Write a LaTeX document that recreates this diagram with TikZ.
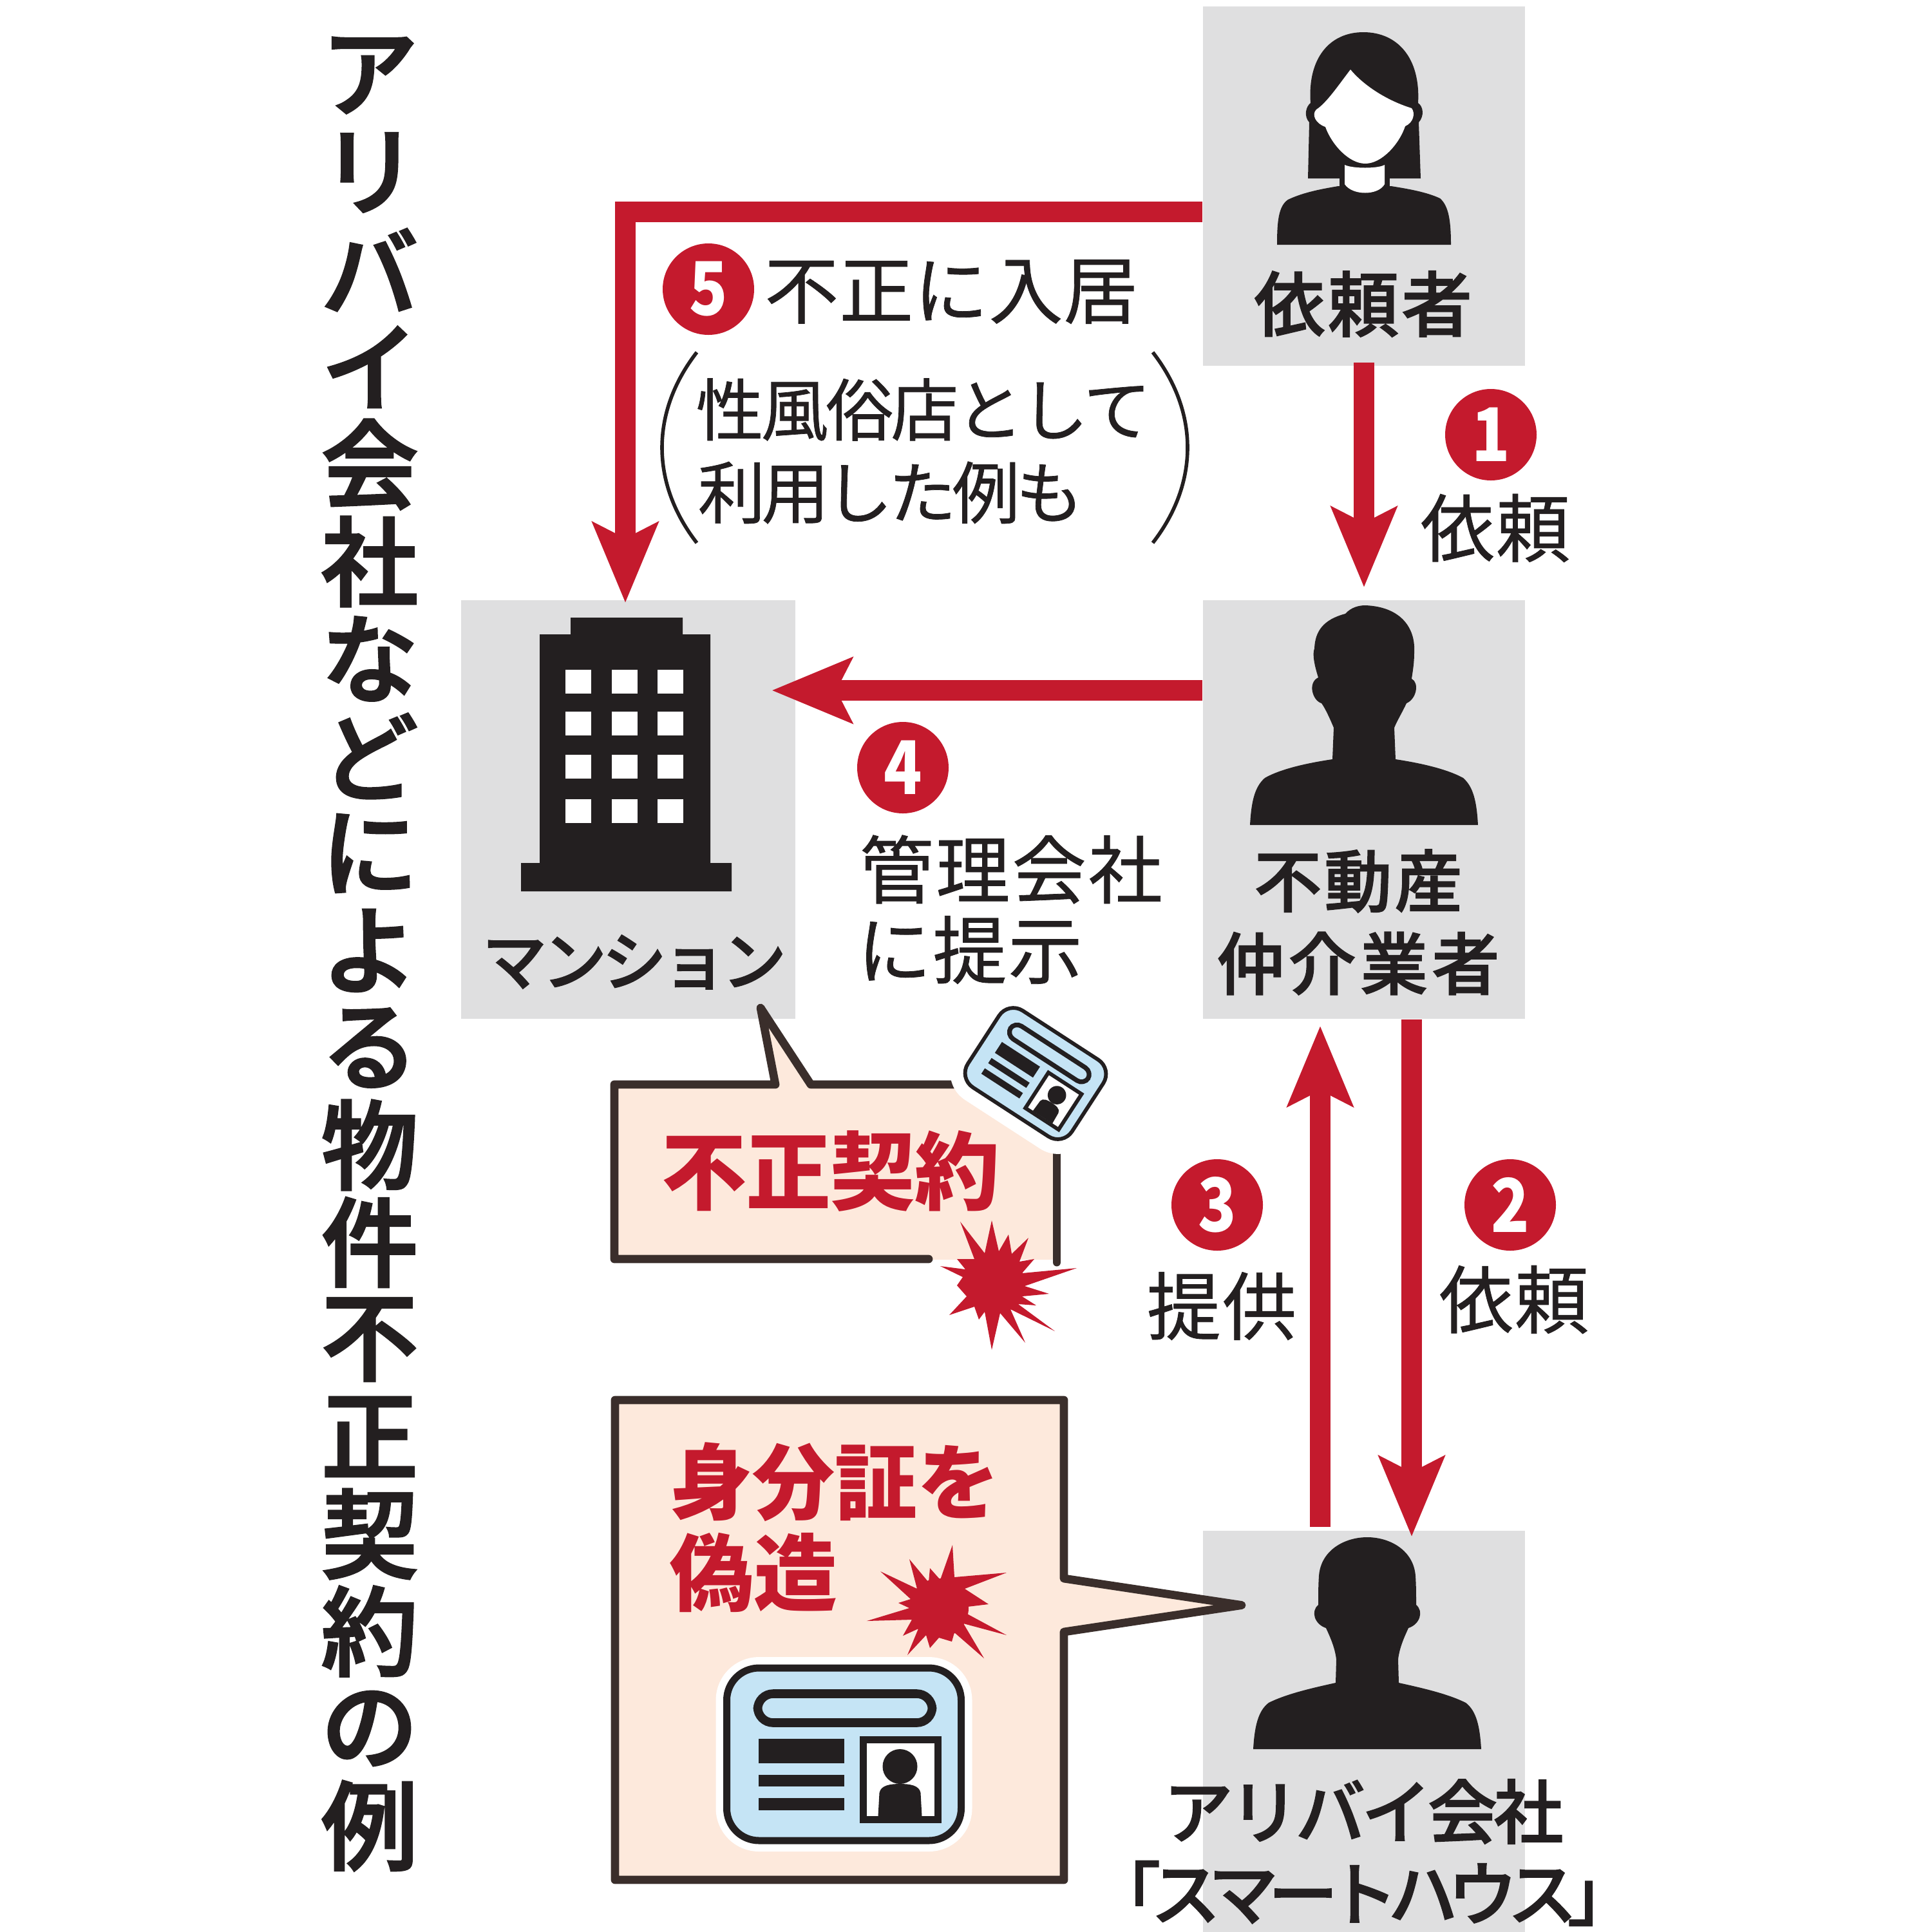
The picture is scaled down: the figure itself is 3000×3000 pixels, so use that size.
\documentclass[tikz,border=0pt]{standalone}
\usepackage{fontspec}
\usetikzlibrary{calc,arrows.meta}
\setmainfont{Noto Sans CJK JP}
\newfontfamily\medfont{Noto Sans CJK JP Medium}
\definecolor{boxgray}{HTML}{DFDFE0}
\definecolor{ink}{HTML}{231F20}
\definecolor{redc}{HTML}{C41A2D}
\definecolor{peach}{HTML}{FDE9DC}
\definecolor{cardblue}{HTML}{C5E4F5}
\definecolor{brownline}{HTML}{3A2E2B}
\newcommand\fpx[1]{\pgfmathsetlengthmacro\tmpfs{#1*0.25}\fontsize{\tmpfs}{\tmpfs}\selectfont}
\newcommand\numt[1]{\scalebox{0.85}[1]{#1}}
\tikzset{
  graybox/.style n args={2}{fill=boxgray,draw=none,inner sep=0pt,minimum width=#1*0.25pt,minimum height=#2*0.25pt},
  reg/.style n args={2}{inner sep=0pt,text=ink,font=\fpx{#1}\addfontfeature{LetterSpace=#2,FakeBold=0.7}},
  mid/.style n args={2}{inner sep=0pt,text=ink,font=\medfont\fpx{#1}\addfontfeature{LetterSpace=#2,FakeBold=1.6}},
  ttl/.style n args={2}{inner sep=0pt,text=ink,font=\medfont\fpx{#1}\addfontfeature{LetterSpace=#2,FakeBold=2.6}},
  redt/.style n args={2}{inner sep=0pt,text=redc,font=\bfseries\fpx{#1}\addfontfeature{LetterSpace=#2}},
  numc/.style={circle,fill=redc,text=white,inner sep=0pt,minimum size=35.5pt,font=\bfseries\fpx{115}},
  conn/.style={draw=redc,line width=7.8pt,-{Stealth[length=31pt,width=25pt,inset=6pt]}},
  bubble/.style={draw=brownline,line width=3.2pt,line join=round,line cap=round},
  paren/.style={draw=ink,line width=1.4pt},
  sil/.style={fill=ink,draw=none}
}
% cx, cy, rotation, scale, halo line width (px)
\newcommand\idcard[5]{%
  \begin{scope}[shift={(#1,#2)},rotate=#3,scale=#4]
    \draw[white,line width=#5*0.25pt,line join=round,rounded corners=50*#4*0.25pt] (-182,-134) rectangle (182,134);
    \draw[draw=ink,fill=cardblue,line width=#4*2.75pt,rounded corners=50*#4*0.25pt] (-182,-134) rectangle (182,134);
    \draw[draw=ink,line width=#4*3.4pt,rounded corners=24*#4*0.25pt] (-134,-94) rectangle (137,-49);
    \fill[ink] (-133,-24) rectangle (0,14);
    \fill[ink] (-133,32) rectangle (0,50);
    \fill[ink] (-133,68) rectangle (0,87);
    \draw[draw=ink,fill=white,line width=#4*2.75pt] (30,-23) rectangle (146,101);
    \fill[ink] (87,19) ellipse [x radius=27,y radius=27];
    \fill[ink] (53,96) -- (55,60) .. controls (57,48) and (72,46) .. (87,46) .. controls (102,46) and (117,48) .. (119,60) -- (121,96) -- cycle;
  \end{scope}}
\begin{document}
\begin{tikzpicture}[x=0.25pt,y=-0.25pt]
\useasboundingbox (0,0) rectangle (3000,3000);
% gray panels
\node[graybox={500}{558}] (requester) at (2118,289) {};
\node[graybox={500}{650}] (agent) at (2118,1257) {};
\node[graybox={519}{650}] (mansion) at (975.5,1257) {};
\node[graybox={500}{623}] (alibi) at (2118,2688.5) {};
% title
\foreach \c [count=\i from 0] in {ア,リ,バ,イ,会,社,な,ど,に,よ,る,物,件,不,正,契,約,の,例}{
  \pgfmathsetmacro\yy{117+151*\i}
  \node[ttl={150}{0}] (title\i) at (574,\yy) {\c};
}
% woman
\fill[sil] (2031,277) -- (2033,190) .. controls (2024,180) and (2028,165) .. (2035,160) .. controls (2030,90) and (2065,50) .. (2117,50) .. controls (2170,50) and (2206,90) .. (2202,160) .. controls (2210,165) and (2212,180) .. (2203,190) -- (2206,277) -- (2160,277) -- (2075,277) -- cycle;
\fill[white] (2097,108) .. controls (2115,130) and (2150,155) .. (2192,168) .. controls (2198,176) and (2195,190) .. (2182,196) .. controls (2172,225) and (2145,254) .. (2120,254) .. controls (2095,254) and (2068,225) .. (2058,197) .. controls (2043,192) and (2036,178) .. (2044,170) .. controls (2060,160) and (2080,130) .. (2097,108) -- cycle;
\fill[sil] (1983,380) .. controls (1983,345) and (1985,320) .. (2000,310) .. controls (2025,298) and (2055,293) .. (2078,289) -- (2160,289) .. controls (2185,293) and (2215,298) .. (2236,308) .. controls (2250,320) and (2253,345) .. (2253,380) -- cycle;
\fill[ink] (2080,260) rectangle (2158,292);
\fill[white] (2088,256) -- (2088,286) .. controls (2100,304) and (2140,304) .. (2150,286) -- (2150,256) .. controls (2140,262) and (2100,262) .. (2088,256) -- cycle;
% broker silhouette
\fill[sil] (1941,1281) .. controls (1943,1245) and (1948,1222) .. (1964,1208) .. controls (1990,1193) and (2035,1184) .. (2069,1179) -- (2071,1130) .. controls (2066,1118) and (2058,1100) .. (2052,1092) .. controls (2038,1088) and (2030,1060) .. (2047,1052) .. controls (2040,1030) and (2038,1015) .. (2041,1007) .. controls (2042,980) and (2055,962) .. (2089,953) .. controls (2098,943) and (2110,940) .. (2120,940) .. controls (2175,942) and (2198,975) .. (2196,1012) .. controls (2196,1030) and (2194,1040) .. (2192,1054) .. controls (2204,1060) and (2200,1085) .. (2184,1092) .. controls (2178,1105) and (2170,1118) .. (2165,1130) -- (2167,1179) .. controls (2200,1184) and (2245,1193) .. (2272,1208) .. controls (2288,1222) and (2293,1245) .. (2295,1281) -- cycle;
% alibi-company silhouette
\begin{scope}[shift={(2123,2387)}]
\fill[sil] (-177,329) .. controls (-175,295) and (-170,270) .. (-153,257) .. controls (-125,243) and (-85,234) .. (-49,226) -- (-48,190) .. controls (-50,170) and (-60,150) .. (-64,141) .. controls (-82,135) and (-88,115) .. (-76,105) .. controls (-76,90) and (-76,75) .. (-75,60) .. controls (-72,20) and (-35,0) .. (0,0) .. controls (35,0) and (72,20) .. (75,60) .. controls (76,75) and (76,90) .. (76,105) .. controls (88,115) and (82,135) .. (64,141) .. controls (60,150) and (50,170) .. (48,190) -- (49,226) .. controls (85,234) and (125,243) .. (153,257) .. controls (170,270) and (175,295) .. (177,329) -- cycle;
\end{scope}
% building
\fill[sil] (886,959) -- (1060,959) -- (1060,985) -- (1103,985) -- (1103,1340) -- (1136,1340) -- (1136,1384) -- (809,1384) -- (809,1340) -- (838,1340) -- (838,985) -- (886,985) -- cycle;
\foreach \yy in {1040,1105,1172,1241}{
  \foreach \xx in {878,950,1021}{
    \fill[white] (\xx,\yy) rectangle ++(40,37);
  }
}
% connectors
\draw[conn] ($(requester.west)+(0,40)$) -| ($(mansion.north)+(-4.5,5)$);
\draw[conn] ($(requester.south)+(0,-6)$) -- ($(agent.north)+(0,-19)$);
\draw[conn] ($(agent.west)+(0,-185)$) -- ($(mansion.east)+(-37.5,-185)$);
\draw[conn] ($(agent.south)+(74,0)$) -- ($(alibi.north)+(74,10)$);
\draw[conn] ($(alibi.north)+(-68,-5)$) -- ($(agent.south)+(-68,10)$);
% number badges
\node[numc] (n1) at (2315,675) {\numt{1}};
\node[numc] (n2) at (2345,1871) {\numt{2}};
\node[numc] (n3) at (1890,1871) {\numt{3}};
\node[numc] (n4) at (1402,1192) {\numt{4}};
\node[numc] (n5) at (1100,449) {\numt{5}};
% labels
\node[mid={110}{4}] (lreq) at (2117,472) {依頼者};
\node[mid={105}{4}] (lag1) at (2109,1368) {不動産};
\node[mid={105}{6}] (lag2) at (2109,1496) {仲介業者};
\node[mid={100}{-7}] (lman) at (985,1494) {マンション};
\node[mid={108}{-5}] (lal1) at (2117,2813) {アリバイ会社};
\node[mid={108}{-14}] (lal2) at (2118,2940) {「スマートハウス」};
\node[reg={115}{2}] (t1) at (2322,820) {依頼};
\node[reg={115}{2}] (t2) at (2351,2018) {依頼};
\node[reg={115}{2}] (t3) at (1897,2028) {提供};
\node[reg={115}{3}] (t4a) at (1570,1350) {管理会社};
\node[reg={115}{2}] (t4b) at (1506,1475) {に提示};
\node[reg={115}{1}] (t5a) at (1477,453) {不正に入居};
\node[reg={105}{-4}] (t5b) at (1434,636) {性風俗店として};
\node[reg={105}{-6}] (t5c) at (1383,765) {利用した例も};
\coordinate (pl1) at (1082,547); \coordinate (pl2) at (1082,843);
\coordinate (pr1) at (1790,547); \coordinate (pr2) at (1790,843);
\draw[paren] (pl1) .. controls (1010,640) and (1010,750) .. (pl2);
\draw[paren] (pr1) .. controls (1862,640) and (1862,750) .. (pr2);
% fraud-contract bubble
\fill[peach] (954,1684) -- (1204,1684) -- (1181,1565) -- (1259,1684) -- (1641,1684) -- (1641,1956) -- (954,1956) -- cycle;
\draw[bubble] (1480,1684) -- (1259,1684) -- (1181,1565) -- (1204,1684) -- (954,1684) -- (954,1955) -- (1442,1955);
\draw[bubble] (1641,1788) -- (1641,1960);
\idcard{1608}{1667}{-33}{0.53}{46}
\node[redt={132}{-1}] (t6) at (1290,1818) {不正契約};
\begin{scope}[shift={(1543,1991)}]
\fill[redc] (0,0) circle (47);
\fill[redc] (-52,-94) -- (-14,-45) -- (-3,-96) -- (8,-48) -- (23,-74) -- (28,-44) -- (54,-69) -- (40,-32) -- (63,-36) -- (44,-14) -- (129,-22) -- (48,6) -- (86,18) -- (44,22) -- (66,36) -- (38,34) -- (95,76) -- (26,42) -- (49,94) -- (10,48) -- (-3,105) -- (-14,46) -- (-23,58) -- (-30,38) -- (-69,51) -- (-42,22) -- (-57,5) -- (-48,-8) -- (-83,-25) -- (-44,-20) -- (-57,-36) -- (-30,-36) -- cycle;
\end{scope}
% forged-ID bubble
\draw[bubble,fill=peach] (955,2174) -- (1652,2174) -- (1652,2451) -- (1928,2492.5) -- (1652,2534) -- (1652,2919) -- (955,2919) -- cycle;
\coordinate (tailtip) at (1928,2492.5);
\fill[brownline] (1850,2475) -- (tailtip) -- (1850,2510) -- (1890,2492.5) -- cycle;
\node[redt={128}{0}] (t7) at (1296,2301) {身分証を};
\node[redt={130}{0}] (t8) at (1170,2442) {偽造};
\begin{scope}[shift={(1458,2497)}]
\fill[redc] (0,0) circle (46);
\fill[redc] (21,-98) -- (24,-48) -- (105,-55) -- (40,-30) -- (77,-6) -- (44,-2) -- (42,8) -- (105,42) -- (38,24) -- (70,78) -- (24,38) -- (20,52) -- (0,46) -- (-14,62) -- (-20,42) -- (-49,73) -- (-32,32) -- (-56,43) -- (-42,18) -- (-112,20) -- (-46,0) -- (-63,-8) -- (-44,-14) -- (-91,-57) -- (-34,-30) -- (-46,-76) -- (-16,-40) -- (-14,-62) -- (2,-44) -- cycle;
\end{scope}
\idcard{1310.5}{2724}{0}{1}{34}
\end{tikzpicture}
\end{document}
